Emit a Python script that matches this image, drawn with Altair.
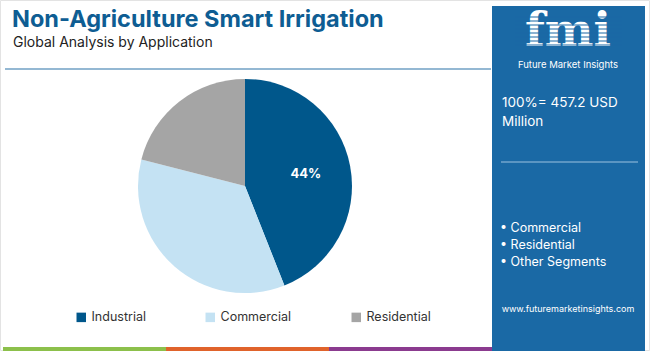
import altair as alt
import pandas as pd

# ---- data ----
segments = ["Industrial", "Commercial", "Residential"]
shares = [44, 35, 21]
labels = ["44%", "", ""]
colors = ["#00578b", "#c4e2f3", "#a5a5a5"]

title_text = "Non-Agriculture Smart Irrigation"
subtitle_text = "Global Analysis by Application"
total_lines = ["100%= 457.2 USD", "Million"]
bullets = ["• Commercial", "• Residential", "• Other Segments"]
url_text = "www.futuremarketinsights.com"

FONT = "Inter"
PANEL = "#1a69a5"

df = pd.DataFrame({"segment": segments, "share": shares, "label": labels,
                   "order": list(range(len(segments)))})
one = pd.DataFrame({"a": [0]})

CX, CY, R = 245, 186, 107

color_scale = alt.Scale(domain=segments, range=colors)

pie = alt.Chart(df).mark_arc(outerRadius=R, stroke=None).encode(
    theta=alt.Theta("share:Q", stack=True),
    color=alt.Color("segment:N", scale=color_scale, sort=segments,
                    legend=alt.Legend(orient="none", legendX=75, legendY=311,
                                      direction="horizontal", title=None,
                                      symbolType="square", symbolSize=90,
                                      labelFont=FONT, labelFontSize=12.5,
                                      labelColor="#333333", columnPadding=58,
                                      symbolStrokeWidth=0, labelOffset=4)),
    order=alt.Order("order:Q"),
    x=alt.value(CX), y=alt.value(CY),
)

pct = alt.Chart(df).mark_text(radius=62, font=FONT, fontSize=13,
                              fontWeight="bold", color="white").encode(
    theta=alt.Theta("share:Q", stack=True),
    order=alt.Order("order:Q"),
    text="label:N",
    x=alt.value(CX), y=alt.value(CY),
)

def rect(x, x2, y, y2, color):
    return alt.Chart(one).mark_rect(color=color).encode(
        x=alt.value(x), x2=alt.value(x2), y=alt.value(y), y2=alt.value(y2))

def text(t, x, y, size, color, weight="normal", align="left", font=FONT):
    return alt.Chart(one).mark_text(text=t, align=align, baseline="alphabetic",
                                    font=font, fontSize=size, fontWeight=weight,
                                    color=color).encode(x=alt.value(x), y=alt.value(y))

layers = []
# frame
layers.append(alt.Chart(one).mark_rect(fill=None, stroke="#e3e3e3", strokeWidth=1).encode(
    x=alt.value(0.5), x2=alt.value(649.5), y=alt.value(0.5), y2=alt.value(350.5)))
# title + subtitle
layers.append(text(title_text, 12, 27, 23.5, "#0e5d93", weight="bold"))
layers.append(text(subtitle_text, 13, 47, 14, "#222222"))
# separator line
layers.append(alt.Chart(one).mark_rule(color="#2a73a8", strokeWidth=1.2).encode(
    x=alt.value(5), x2=alt.value(491), y=alt.value(69)))
# bottom stripes
layers.append(rect(3, 166, 347, 351, "#8cc04b"))
layers.append(rect(166, 329, 347, 351, "#e0632b"))
layers.append(rect(329, 492, 347, 351, "#8b3b8f"))
# right panel
layers.append(rect(492, 645, 6, 351, PANEL))
# logo
layers.append(text("fmi", 568, 46, 46, "white", weight="bold", align="center",
                   font="DejaVu Serif"))
for yy in range(17, 48, 4):
    layers.append(alt.Chart(one).mark_rule(color=PANEL, strokeWidth=1.2).encode(
        x=alt.value(515), x2=alt.value(622), y=alt.value(yy)))
layers.append(text("Future Market Insights", 568, 68, 9.5, "white", align="center"))
# total
layers.append(text(total_lines[0], 502, 107, 13.5, "white"))
layers.append(text(total_lines[1], 502, 126, 13.5, "white"))
layers.append(alt.Chart(one).mark_rule(color="#9cc3e0", strokeWidth=1).encode(
    x=alt.value(501), x2=alt.value(638), y=alt.value(162)))
for i, b in enumerate(bullets):
    layers.append(text(b, 500, 232 + i * 17, 12.5, "white"))
layers.append(text(url_text, 568, 312, 9, "white", align="center"))

chart = alt.layer(*layers, pie, pct).properties(
    width=650, height=351,
    autosize=alt.AutoSizeParams(type="none"),
    padding=0,
    background="white",
).configure_view(stroke=None)

chart.save("out.html", embed_options={"renderer": "svg", "actions": False})
